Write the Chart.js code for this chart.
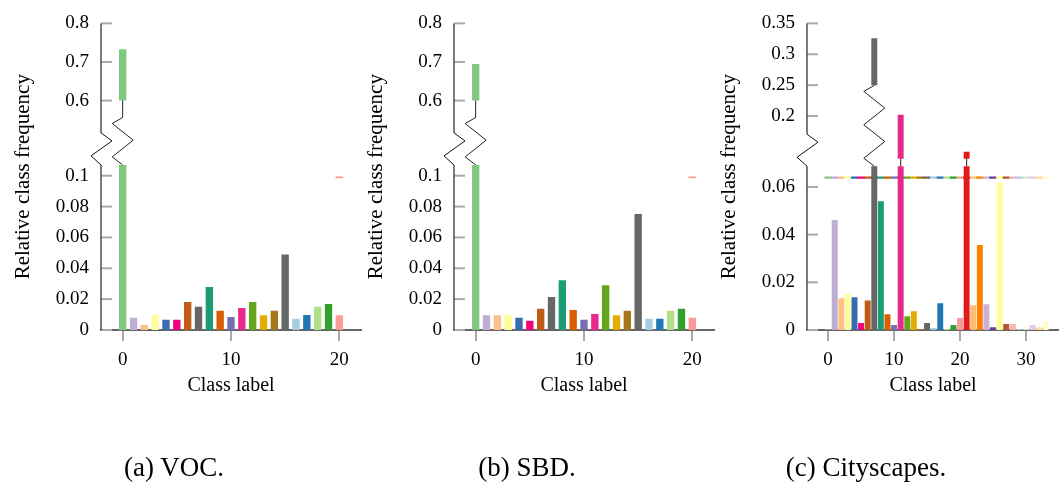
<!DOCTYPE html>
<html>
<head>
<meta charset="utf-8">
<script src="https://cdn.jsdelivr.net/npm/chart.js@4.4.0/dist/chart.umd.min.js"></script>
<style>
  body { margin: 0; background: #fff; width: 1059px; height: 490px; position: relative; overflow: hidden; font-family: "Liberation Serif", serif; }
  .panel { position: absolute; top: 0; height: 490px; }
  .caption { position: absolute; top: 454px; font-size: 27px; line-height: 27px; white-space: nowrap; transform: translateX(-50%); color: #000; }
</style>
</head>
<body>
<div class="panel" style="left:0;width:363px"><canvas id="vocChart"></canvas></div>
<div class="panel" style="left:353px;width:363px"><canvas id="sbdChart"></canvas></div>
<div class="panel" style="left:706px;width:353px"><canvas id="cityChart"></canvas></div>
<div class="caption" style="left:174px">(a) VOC.</div>
<div class="caption" style="left:527px">(b) SBD.</div>
<div class="caption" style="left:866px">(c) Cityscapes.</div>
<script>
// Colour per class label: Accent, Dark2, Paired, Pastel1 one after the other
const accent = ['#7fc97f', '#beaed4', '#fdc086', '#ffff99', '#386cb0', '#f0027f', '#bf5b17', '#666666'];
const dark2 = ['#1b9e77', '#d95f02', '#7570b3', '#e7298a', '#66a61e', '#e6ab02', '#a6761d', '#666666'];
const paired = ['#a6cee3', '#1f78b4', '#b2df8a', '#33a02c', '#fb9a99', '#e31a1c', '#fdbf6f', '#ff7f00', '#cab2d6', '#6a3d9a', '#ffff99', '#b15928'];
const pastel1 = ['#fbb4ae', '#b3cde3', '#ccebc5', '#decbe4', '#fed9a6', '#ffffcc'];
const classColors = accent.concat(dark2, paired, pastel1);

// Relative class frequency per class label
const vocFreq = [0.733, 0.0079, 0.0032, 0.0096, 0.0066, 0.0066, 0.0182, 0.015, 0.0278, 0.0124, 0.0085,
    0.0143, 0.0182, 0.0096, 0.0124, 0.0489, 0.0073, 0.0098, 0.015, 0.0169, 0.0096];
const sbdFreq = [0.695, 0.0095, 0.0095, 0.0095, 0.0079, 0.006, 0.0137, 0.0214, 0.0323, 0.013, 0.0066,
    0.0103, 0.029, 0.0095, 0.0124, 0.0752, 0.0073, 0.0073, 0.0124, 0.0137, 0.0079];
const cityFreq = [0.0003, 0.0461, 0.0133, 0.0153, 0.0137, 0.0029, 0.0124, 0.326, 0.054, 0.0066, 0.0021,
    0.202, 0.0058, 0.0079, 0.0004, 0.0029, 0.0008, 0.0112, 0.0004, 0.0021, 0.005, 0.142,
    0.0104, 0.0357, 0.0108, 0.0012, 0.0618, 0.0025, 0.0025, 0.0004, 0.0004, 0.0021, 0.0012, 0.0037];

// Bars that cross the axis break, and the value where they pick up again above it
const vocBroken = [0];
const vocResume = [0.6];
const sbdBroken = [0];
const sbdResume = [0.6];
const cityBroken = [7, 11, 21];
const cityResume = [0.25, 0.131, 0.131];

// Short marks left at the break level
const vocMarks = [20];
const sbdMarks = [20];
const cityMarks = cityFreq.map((v, i) => i);
const vocMarkLevel = 0.0989;
const sbdMarkLevel = 0.0989;
const cityMarkLevel = 0.0639;

// Tick labels
const vocYTicks = [0, 0.02, 0.04, 0.06, 0.08, 0.1, 0.6, 0.7, 0.8];
const sbdYTicks = [0, 0.02, 0.04, 0.06, 0.08, 0.1, 0.6, 0.7, 0.8];
const cityYTicks = [0, 0.02, 0.04, 0.06, 0.2, 0.25, 0.3, 0.35];
const vocXTicks = [0, 10, 20];
const sbdXTicks = [0, 10, 20];
const cityXTicks = [0, 10, 20, 30];

const FONT = '"Liberation Serif", serif';
Chart.defaults.font.family = FONT;
Chart.defaults.color = '#000';

// Lower part is linear up to lowTop, upper part is squeezed by k and anchored at anchorVal
function toAxis(v, brk) {
    return v <= brk.lowTop ? v : brk.anchorT + (v - brk.anchorVal) * brk.k;
}

function line(ctx, pts) {
    ctx.beginPath();
    ctx.moveTo(pts[0][0], pts[0][1]);
    pts.slice(1).forEach(p => ctx.lineTo(p[0], p[1]));
    ctx.stroke();
}

// Draws the y axis with its zigzag, the inward tick marks and the bar connectors
const brokenAxis = {
    id: 'brokenAxis',
    afterDatasetsDraw(chart, args, opts) {
        const { ctx, chartArea } = chart;
        const xs = chart.scales.x, ys = chart.scales.y;
        const ax = chartArea.left;
        ctx.save();

        ctx.strokeStyle = '#aaa';
        ctx.lineWidth = 2;
        ys.ticks.forEach(t => {
            const py = ys.getPixelForValue(t.value);
            line(ctx, [[ax, py], [ax + 11, py]]);
        });

        const yLow = ys.getPixelForValue(opts.brk.lowTop);
        ctx.strokeStyle = '#444';
        ctx.lineWidth = 1.4;
        line(ctx, [[ax, chartArea.bottom], [ax, yLow]]);
        line(ctx, [[ax, yLow - 32], [ax, chartArea.top]]);
        ctx.strokeStyle = '#111';
        ctx.lineWidth = 1;
        line(ctx, [[ax, yLow], [ax - 10, yLow - 9], [ax + 11, yLow - 24], [ax, yLow - 32]]);

        ctx.strokeStyle = '#222';
        opts.broken.forEach((i, j) => {
            const cx = xs.getPixelForValue(i);
            const yU = ys.getPixelForValue(toAxis(opts.resume[j], opts.brk));
            const gap = yLow - yU;
            if (gap < 14) {
                line(ctx, [[cx, yLow], [cx, yU]]);
                return;
            }
            let count = 1;
            while (8 + (count + 1) * 16.7 + 6 <= gap) count += 2;
            const pts = [[cx, yLow]];
            for (let k = 0; k < count; k++) {
                pts.push([cx + (k % 2 === 0 ? -10.5 : 10.5), yLow - 8 - k * 16.7]);
            }
            pts.push([cx, yLow - 8 - (count - 1) * 16.7 - 6]);
            pts.push([cx, yU]);
            line(ctx, pts);
        });
        ctx.restore();
    }
};

function makePanel(id, p) {
    const brk = p.brk;
    const colorOf = c => classColors[c.raw.x];
    const lowerBars = p.freq.map((v, i) => ({ x: i, y: p.broken.includes(i) ? brk.lowTop : v }));
    const upperBars = p.broken.map((i, j) => ({ x: i, y: [toAxis(p.resume[j], brk), toAxis(p.freq[i], brk)] }));
    const marks = p.marks.map(i => ({ x: i, y: [p.markLevel - p.markHalf, p.markLevel + p.markHalf] }));

    new Chart(document.getElementById(id).getContext('2d'), {
        type: 'bar',
        data: {
            datasets: [{
                data: lowerBars,
                backgroundColor: colorOf,
                grouped: false,
                categoryPercentage: 1,
                barPercentage: p.barPct
            }, {
                data: upperBars,
                backgroundColor: colorOf,
                grouped: false,
                categoryPercentage: 1,
                barPercentage: p.barPct
            }, {
                data: marks,
                backgroundColor: colorOf,
                grouped: false,
                categoryPercentage: 1,
                barPercentage: p.markPct
            }]
        },
        options: {
            responsive: true,
            maintainAspectRatio: false,
            animation: false,
            layout: { padding: { top: 20, right: p.padRight, bottom: 90, left: 0 } },
            plugins: {
                legend: { display: false },
                tooltip: { enabled: false },
                brokenAxis: { brk: brk, broken: p.broken, resume: p.resume }
            },
            scales: {
                x: {
                    type: 'linear',
                    offset: false,
                    min: p.xMin,
                    max: p.xMax,
                    afterBuildTicks: s => { s.ticks = p.xTicks.map(v => ({ value: v })); },
                    afterFit: s => { s.height = 70; },
                    grid: { display: true, offset: false, drawOnChartArea: false, drawTicks: true, tickLength: 11, color: '#aaa', lineWidth: 2 },
                    border: { display: true, color: '#666', width: 2 },
                    ticks: { font: { size: 19 }, color: '#000', padding: 8, callback: v => String(v) },
                    title: { display: true, text: 'Class label', font: { size: 20 }, color: '#000', padding: { top: 0, bottom: 2 } }
                },
                y: {
                    min: 0,
                    max: toAxis(p.yTicks[p.yTicks.length - 1], brk),
                    afterBuildTicks: s => { s.ticks = p.yTicks.map(v => ({ value: toAxis(v, brk) })); },
                    afterFit: s => { s.width = 101; },
                    grid: { display: false, drawTicks: false },
                    border: { display: false },
                    ticks: { font: { size: 19 }, color: '#000', padding: 12, callback: (v, i) => String(p.yTicks[i]) },
                    title: { display: true, text: 'Relative class frequency', font: { size: 21 }, color: '#000', padding: { top: 11, bottom: 0 } }
                }
            }
        },
        plugins: [brokenAxis]
    });
}

makePanel('vocChart', {
    freq: vocFreq, broken: vocBroken, resume: vocResume,
    marks: vocMarks, markLevel: vocMarkLevel, markHalf: 0.0005,
    yTicks: vocYTicks, xTicks: vocXTicks, xMin: -2, xMax: 22,
    brk: { lowTop: 0.107, anchorVal: 0.6, anchorT: 0.1487, k: 0.25 },
    barPct: 0.68, markPct: 0.7, padRight: 2
});
makePanel('sbdChart', {
    freq: sbdFreq, broken: sbdBroken, resume: sbdResume,
    marks: sbdMarks, markLevel: sbdMarkLevel, markHalf: 0.0005,
    yTicks: sbdYTicks, xTicks: sbdXTicks, xMin: -2, xMax: 22,
    brk: { lowTop: 0.107, anchorVal: 0.6, anchorT: 0.1487, k: 0.25 },
    barPct: 0.68, markPct: 0.7, padRight: 2
});
makePanel('cityChart', {
    freq: cityFreq, broken: cityBroken, resume: cityResume,
    marks: cityMarks, markLevel: cityMarkLevel, markHalf: 0.0003,
    yTicks: cityYTicks, xTicks: cityXTicks, xMin: -3.2, xMax: 35,
    brk: { lowTop: 0.0687, anchorVal: 0.2, anchorT: 0.08975, k: 0.259 },
    barPct: 0.9, markPct: 1, padRight: 0
});
</script>
</body>
</html>
